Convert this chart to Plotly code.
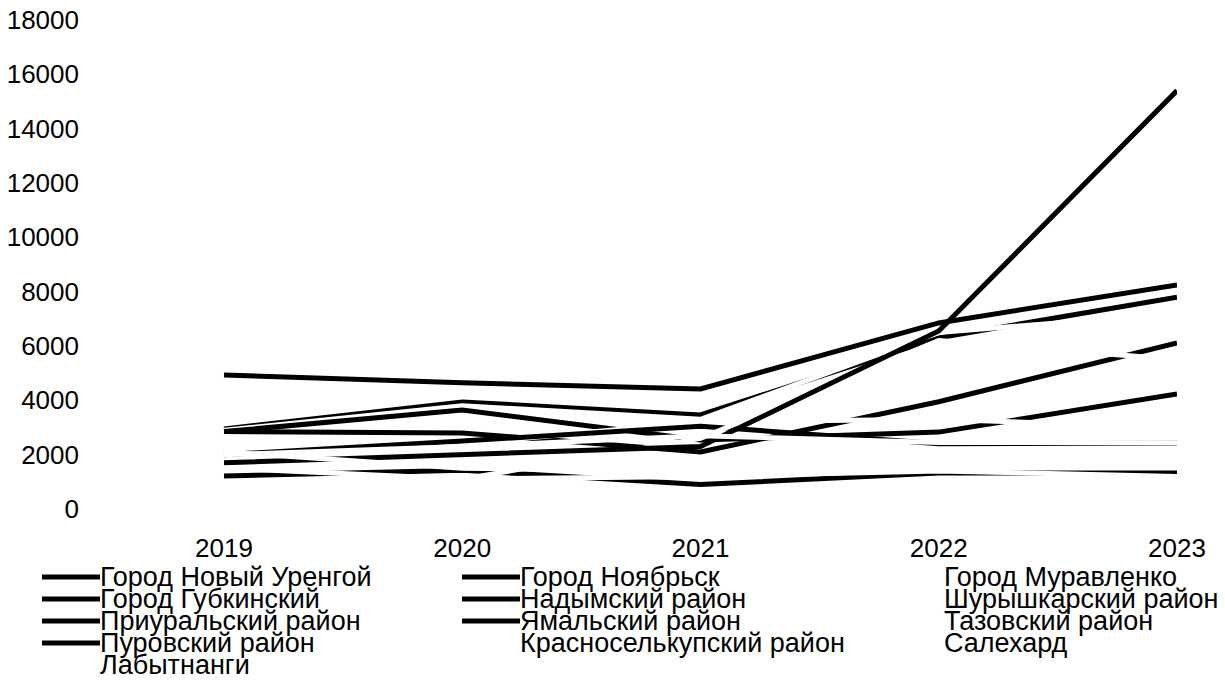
import plotly.graph_objects as go

years = [2019, 2020, 2021, 2022, 2023]

names = [
    "Город Новый Уренгой", "Город Ноябрьск", "Город Муравленко",
    "Город Губкинский", "Надымский район", "Шурышкарский район",
    "Приуральский район", "Ямальский район", "Тазовский район",
    "Пуровский район", "Красноселькупский район", "Салехард",
    "Лабытнанги",
]

novy_urengoy = [4930, 4650, 4420, 6850, 8250]
noyabrsk = [2950, 3940, 3460, 6300, 7800]
muravlenko = [2900, 3800, 3300, 6500, 7200]
gubkinsky = [2850, 3640, 2540, 2830, 4230]
nadym = [2850, 2800, 2100, 3950, 6110]
shuryshkary = [2000, 2400, 3200, 3300, 3000]
priuralsky = [1215, 1430, 900, 1325, 1325]
yamalsky = [2000, 2500, 3050, 2400, 2430]
tazovsky = [1000, 1100, 2600, 6200, 5500]
purovsky = [1700, 2000, 2300, 6550, 15400]
krasnoselkup = [2100, 1500, 1400, 1500, 1600]
salekhard = [2000, 2300, 2700, 2450, 2440]
labytnangi = [1500, 1100, 1200, 1400, 1200]

values = [novy_urengoy, noyabrsk, muravlenko, gubkinsky, nadym, shuryshkary,
          priuralsky, yamalsky, tazovsky, purovsky, krasnoselkup, salekhard,
          labytnangi]
colors = ["#000000", "#000000", "#ffffff", "#000000", "#000000", "#ffffff",
          "#000000", "#000000", "#ffffff", "#000000", "#ffffff", "#ffffff",
          "#ffffff"]

yticks = [0, 2000, 4000, 6000, 8000, 10000, 12000, 14000, 16000, 18000]

FONT = "Liberation Sans, Arial, sans-serif"
OFF = 8  # page body margin in the browser
W, H = 1225 - OFF, 682 - OFF
ML, MR, MT, MB = 72, 48, 12, 173
x0 = 2019 - ((224 - OFF) - ML) / 238.25

fig = go.Figure()
for n, v, c in zip(names, values, colors):
    fig.add_trace(go.Scatter(x=years, y=v, name=n, mode="lines",
                             line=dict(color=c, width=5), showlegend=False))

# legend drawn from names/colors, 3 columns, row-major
pw = W - ML - MR
ph = H - MT - MB
col_sym = [42, 462, 886]
row_y = [577, 599, 621, 643, 665]
for i, (n, c) in enumerate(zip(names, colors)):
    r, k = divmod(i, 3)
    sx = col_sym[k] - OFF
    py = row_y[r] - OFF
    fy = (H - MB - py) / ph
    fig.add_shape(type="line", xref="paper", yref="paper",
                  x0=(sx - ML) / pw, x1=(sx + 58 - ML) / pw, y0=fy, y1=fy,
                  line=dict(color=c, width=5))
    fig.add_annotation(xref="paper", yref="paper", x=(sx + 57 - ML) / pw, y=fy,
                       text=n, showarrow=False, xanchor="left", yanchor="middle",
                       font=dict(family=FONT, size=27, color="#000000"),
                       borderpad=0)

fig.update_layout(
    width=W, height=H,
    margin=dict(l=ML, r=MR, t=MT, b=MB, autoexpand=False),
    paper_bgcolor="white", plot_bgcolor="white",
    font=dict(family=FONT, size=26, color="#000000"),
    xaxis=dict(range=[x0, 2023], tickmode="array", tickvals=years,
               ticktext=[str(y) for y in years], showgrid=False,
               zeroline=False, showline=False, ticklabelstandoff=21,
               automargin=False, ticklabeloverflow="allow"),
    yaxis=dict(range=[0, 18000], tickmode="array", tickvals=yticks,
               ticktext=[str(t) for t in yticks], showgrid=False,
               zeroline=False, showline=False, automargin=False,
               ticklabeloverflow="allow"),
)

fig.write_html("out.html")
